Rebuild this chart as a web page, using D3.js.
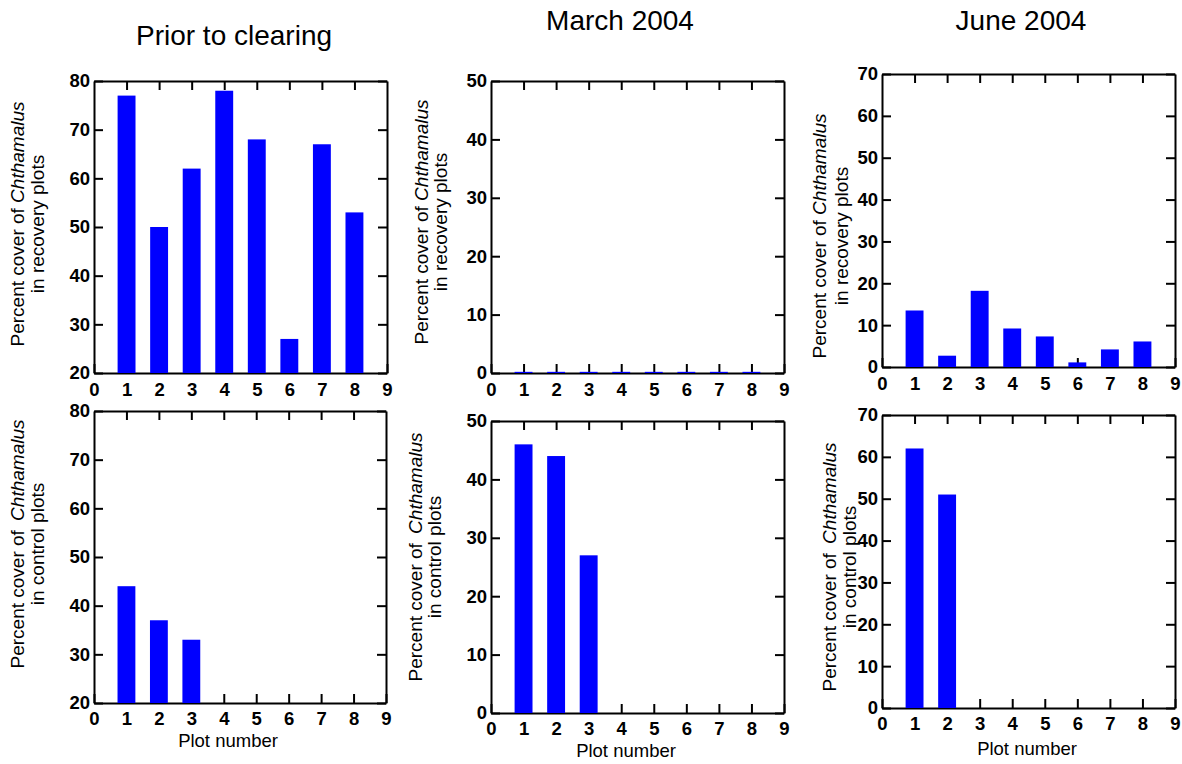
<!DOCTYPE html>
<html>
<head>
<meta charset="utf-8">
<script src="https://cdn.jsdelivr.net/npm/d3@7"></script>
<style>
  body { margin: 0; background: #fff; }
  svg { display: block; font-family: "Liberation Sans", Arial, Helvetica, sans-serif; }
</style>
</head>
<body>
<svg id="chart" width="1182" height="764"></svg>
<script>
// ---- data ----
const plotNumbers = [1, 2, 3, 4, 5, 6, 7, 8];
const xTickValues = [0, 1, 2, 3, 4, 5, 6, 7, 8, 9];
const columnTitles = ["Prior to clearing", "March 2004", "June 2004"];
const yDomains = [[20, 80], [0, 50], [0, 70]];
const yTickValues = [
  [20, 30, 40, 50, 60, 70, 80],
  [0, 10, 20, 30, 40, 50],
  [0, 10, 20, 30, 40, 50, 60, 70]
];
const rowLabels = ["in recovery plots", "in control plots"];

// recovery plots (all eight plots)
const recoveryPrior = [77, 50, 62, 78, 68, 27, 67, 53];
const recoveryMarch = [0.2, 0.2, 0.2, 0.2, 0.2, 0.2, 0.2, 0.2];
const recoveryJune  = [13.5, 2.7, 18.2, 9.2, 7.3, 1.1, 4.2, 6.1];

// control plots
const controlPlotsPrior = [1, 2, 3];
const controlPrior      = [44, 37, 33];
const controlPlotsMarch = [1, 2, 3];
const controlMarch      = [46, 44, 27];
const controlPlotsJune  = [1, 2];
const controlJune       = [62, 51];

// ---- layout ----
const BAR_COLOR = "#0000ff";
const BAR_WIDTH = 0.55;   // in plot-number units
const TICK = 9;
const TICK_FONT = 18.5;
const LABEL_FONT = 19;

const panels = [
  { col: 0, row: 0, plots: plotNumbers, values: recoveryPrior,
    left: 94, top: 81, right: 387, bottom: 373, lab: [24, 44, 224], gap: 0 },
  { col: 1, row: 0, plots: plotNumbers, values: recoveryMarch,
    left: 491, top: 81, right: 784, bottom: 373, lab: [428, 447, 222], gap: 0 },
  { col: 2, row: 0, plots: plotNumbers, values: recoveryJune,
    left: 882, top: 74, right: 1175, bottom: 367, lab: [826, 848, 236], gap: 0 },
  { col: 0, row: 1, plots: controlPlotsPrior, values: controlPrior,
    left: 94, top: 411, right: 386, bottom: 703, lab: [24, 44, 544], gap: 4,
    xlab: [228, 747] },
  { col: 1, row: 1, plots: controlPlotsMarch, values: controlMarch,
    left: 491, top: 421, right: 784, bottom: 713, lab: [422, 441, 557], gap: 4,
    xlab: [626, 757] },
  { col: 2, row: 1, plots: controlPlotsJune, values: controlJune,
    left: 882, top: 415, right: 1175, bottom: 708, lab: [836, 856, 567], gap: 4,
    xlab: [1027, 755] }
];

const titlePos = [[234, 45], [620, 30], [1021, 30]];

const svg = d3.select("#chart");

// column titles
svg.selectAll("text.title")
  .data(columnTitles)
  .join("text")
  .attr("class", "title")
  .attr("x", (d, i) => titlePos[i][0])
  .attr("y", (d, i) => titlePos[i][1])
  .attr("text-anchor", "middle")
  .attr("font-size", 28)
  .attr("fill", "#000")
  .text(d => d);

panels.forEach(p => {
  const x = d3.scaleLinear().domain([0, 9]).range([p.left, p.right]);
  const y = d3.scaleLinear().domain(yDomains[p.col]).range([p.bottom, p.top]);
  const g = svg.append("g");

  const styleAxis = sel => {
    sel.select(".domain").attr("stroke", "#000").attr("stroke-width", 2);
    sel.selectAll(".tick line").attr("stroke", "#000").attr("stroke-width", 2);
    sel.selectAll(".tick text")
      .attr("fill", "#000")
      .attr("font-size", TICK_FONT)
      .attr("font-weight", "bold")
      .attr("font-family", "'Liberation Sans', Arial, sans-serif");
  };

  // bottom axis with labels, inward ticks
  g.append("g")
    .attr("transform", `translate(0,${p.bottom})`)
    .call(d3.axisBottom(x).tickValues(xTickValues).tickFormat(d3.format("d"))
      .tickSizeInner(-TICK).tickSizeOuter(0).tickPadding(p.row === 0 ? 10 : 9))
    .call(styleAxis);

  // top axis, ticks only
  g.append("g")
    .attr("transform", `translate(0,${p.top})`)
    .call(d3.axisTop(x).tickValues(xTickValues.slice(1, -1)).tickFormat("")
      .tickSizeInner(-TICK).tickSizeOuter(0))
    .call(styleAxis);

  // left axis with labels
  g.append("g")
    .attr("transform", `translate(${p.left},0)`)
    .call(d3.axisLeft(y).tickValues(yTickValues[p.col]).tickFormat(d3.format("d"))
      .tickSizeInner(-TICK).tickSizeOuter(0).tickPadding(4))
    .call(styleAxis);

  // right axis, ticks only
  g.append("g")
    .attr("transform", `translate(${p.right},0)`)
    .call(d3.axisRight(y).tickValues(yTickValues[p.col]).tickFormat("")
      .tickSizeInner(-TICK).tickSizeOuter(0))
    .call(styleAxis);

  // bars
  const base = yDomains[p.col][0];
  const bw = x(BAR_WIDTH) - x(0);
  g.append("g")
    .selectAll("rect")
    .data(p.values.map((v, i) => ({ plot: p.plots[i], value: v })))
    .join("rect")
    .attr("x", d => x(d.plot) - bw / 2)
    .attr("width", bw)
    .attr("y", d => y(d.value))
    .attr("height", d => y(base) - y(d.value))
    .attr("fill", BAR_COLOR);

  // y-axis title (two lines)
  const t1 = g.append("text")
    .attr("transform", `translate(${p.lab[0]},${p.lab[2]}) rotate(-90)`)
    .attr("text-anchor", "middle")
    .attr("font-size", LABEL_FONT)
    .attr("fill", "#000");
  t1.append("tspan").text("Percent cover of ");
  t1.append("tspan").attr("dx", p.gap).attr("font-style", "italic").text("Chthamalus");

  g.append("text")
    .attr("transform", `translate(${p.lab[1]},${p.lab[2]}) rotate(-90)`)
    .attr("text-anchor", "middle")
    .attr("font-size", LABEL_FONT)
    .attr("fill", "#000")
    .text(rowLabels[p.row]);

  // x-axis title on the lower row
  if (p.xlab) {
    g.append("text")
      .attr("x", p.xlab[0])
      .attr("y", p.xlab[1])
      .attr("text-anchor", "middle")
      .attr("font-size", 18.5)
      .attr("fill", "#000")
      .text("Plot number");
  }
});
</script>
</body>
</html>
